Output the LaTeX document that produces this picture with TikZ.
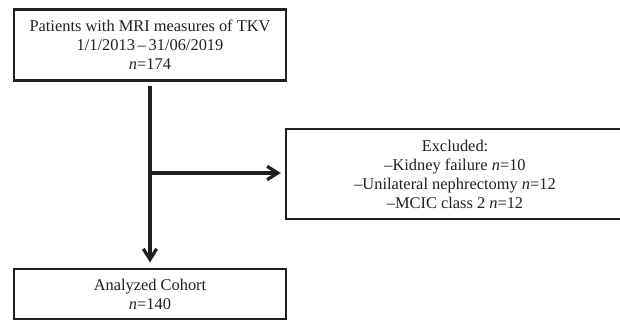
\documentclass[tikz,border=0pt]{standalone}
\usepackage{fontspec}
\setmainfont{Liberation Serif}
\usetikzlibrary{arrows.meta}
\definecolor{ink}{HTML}{231F20}
\begin{document}
\begin{tikzpicture}[x=0.75pt,y=-0.75pt,
  box/.style={draw=ink,line width=1.8pt,rectangle,inner sep=0pt,align=center,
    font=\fontsize{12.3pt}{14.3pt}\selectfont,text=ink},
  flow/.style={draw=ink,line width=2.4pt,-{Straight Barb[length=8pt,width=10pt,line width=2.4pt]}}]
\useasboundingbox (0,0) rectangle (620,320);
\node[box,minimum width=272*0.75pt,minimum height=71*0.75pt] (top) at (150,45)
  {Patients with MRI measures of TKV\\1/1/2013\,--\,31/06/2019\\\textit{n}=174};
\node[box,minimum width=272*0.75pt,minimum height=50*0.75pt] (bot) at (150,294)
  {Analyzed Cohort\\\textit{n}=140};
\node[box,minimum width=338*0.75pt,minimum height=90*0.75pt] (exc) at (455,174)
  {Excluded:\\--Kidney failure \textit{n}=10\\--Unilateral nephrectomy \textit{n}=12\\--MCIC class 2 \textit{n}=12};
\coordinate (br) at (151,173);
\draw[flow,shorten <=3pt,shorten >=4pt] (top.south) -- (bot.north);
\draw[flow,shorten >=3pt] (br) -- (br -| exc.west);
\end{tikzpicture}
\end{document}
